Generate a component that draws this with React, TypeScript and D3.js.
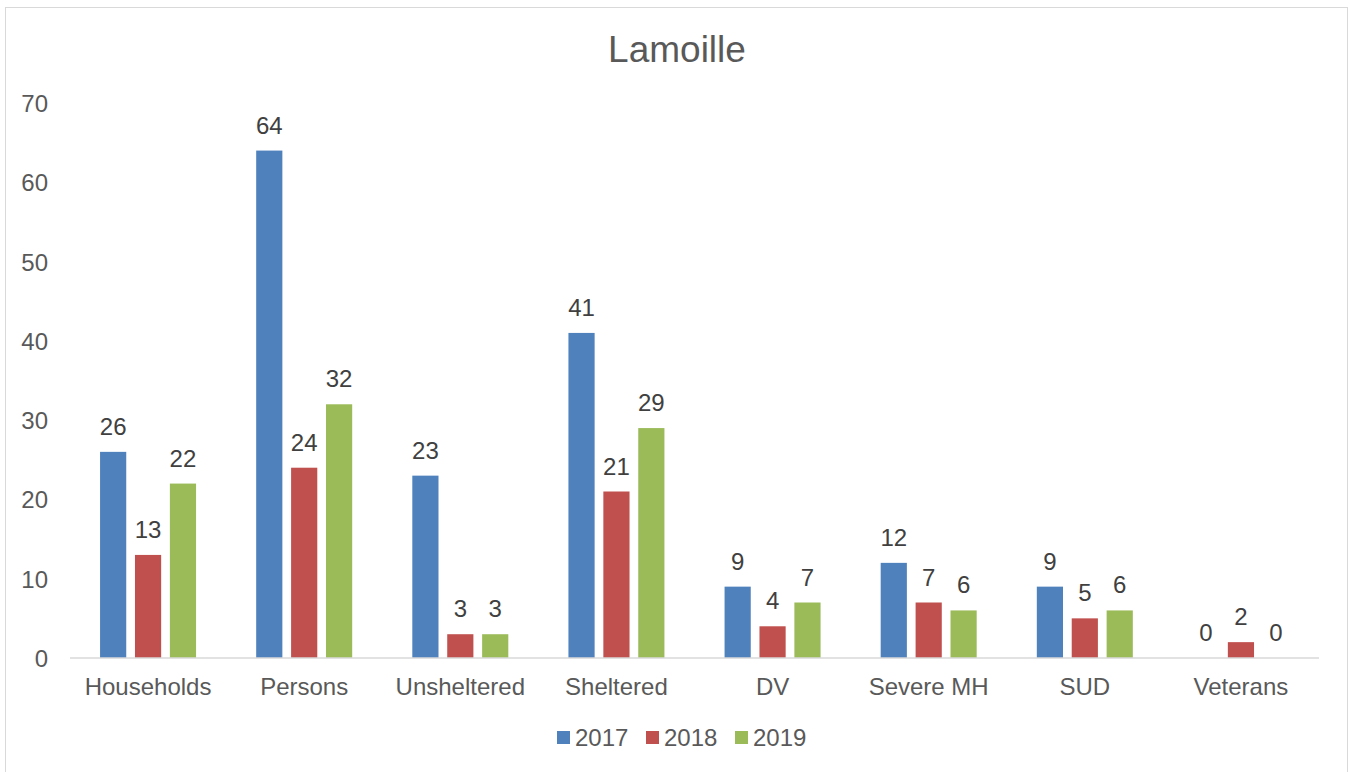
import { useEffect, useRef } from 'react'
import * as d3 from 'd3'

const categories = ['Households', 'Persons', 'Unsheltered', 'Sheltered', 'DV', 'Severe MH', 'SUD', 'Veterans']
const seriesNames = ['2017', '2018', '2019']
const values2017 = [26, 64, 23, 41, 9, 12, 9, 0]
const values2018 = [13, 24, 3, 21, 4, 7, 5, 2]
const values2019 = [22, 32, 3, 29, 7, 6, 6, 0]
const yTicks = [0, 10, 20, 30, 40, 50, 60, 70]
const colors = ['#4F81BD', '#C0504D', '#9BBB59']

export default function App() {
  const ref = useRef<SVGSVGElement>(null)

  useEffect(() => {
    if (!ref.current) return
    const svg = d3.select(ref.current)
    svg.selectAll('*').remove()

    const font = '"Liberation Sans", Arial, sans-serif'
    const series = [values2017, values2018, values2019]

    // frame
    svg.append('rect')
      .attr('x', 5.5).attr('y', 7.5)
      .attr('width', 1342).attr('height', 780)
      .attr('fill', '#fff').attr('stroke', '#d9d9d9').attr('stroke-width', 1)

    const x0 = d3.scaleBand<string>().domain(categories).range([70, 1319])
    const groupW = 96
    const x1 = d3.scaleBand<string>().domain(seriesNames).range([0, groupW]).paddingInner(0.25)
    const y = d3.scaleLinear().domain([0, 70]).range([658, 103])

    // title
    svg.append('text')
      .attr('x', 677).attr('y', 62)
      .attr('text-anchor', 'middle')
      .style('font-family', font).style('font-size', '37px')
      .style('fill', '#595959')
      .text('Lamoille')

    // y tick labels
    const yAxis = svg.append('g')
    yTicks.forEach(t => {
      yAxis.append('text')
        .attr('x', 48).attr('y', y(t) + 9)
        .attr('text-anchor', 'end')
        .style('font-family', font).style('font-size', '24px')
        .style('fill', '#595959')
        .text(t)
    })

    // bars
    series.forEach((vals, si) => {
      const g = svg.append('g')
      categories.forEach((c, ci) => {
        const bx = (x0(c) as number) + (x0.bandwidth() - groupW) / 2 + (x1(seriesNames[si]) as number)
        const v = vals[ci]
        g.append('rect')
          .attr('x', bx).attr('y', y(v))
          .attr('width', x1.bandwidth()).attr('height', y(0) - y(v))
          .attr('fill', colors[si])
        g.append('text')
          .attr('x', bx + x1.bandwidth() / 2).attr('y', y(v) - 17)
          .attr('text-anchor', 'middle')
          .style('font-family', font).style('font-size', '24px')
          .style('fill', '#404040')
          .text(v)
      })
    })

    // x axis
    svg.append('line')
      .attr('x1', 70).attr('x2', 1319)
      .attr('y1', 658).attr('y2', 658)
      .attr('stroke', '#d9d9d9').attr('stroke-width', 1.5)

    categories.forEach(c => {
      svg.append('text')
        .attr('x', (x0(c) as number) + x0.bandwidth() / 2).attr('y', 695)
        .attr('text-anchor', 'middle')
        .style('font-family', font).style('font-size', '24px')
        .style('fill', '#595959')
        .text(c)
    })

    // legend
    const legendX = [557, 646, 735]
    seriesNames.forEach((s, i) => {
      svg.append('rect')
        .attr('x', legendX[i]).attr('y', 731)
        .attr('width', 13).attr('height', 13)
        .attr('fill', colors[i])
      svg.append('text')
        .attr('x', legendX[i] + 18).attr('y', 746)
        .style('font-family', font).style('font-size', '24px')
        .style('fill', '#595959')
        .text(s)
    })
  }, [])

  return (
    <div style={{ position: 'absolute', left: 0, top: 0 }}>
      <svg ref={ref} width={1351} height={772} style={{ display: 'block' }} />
    </div>
  )
}
